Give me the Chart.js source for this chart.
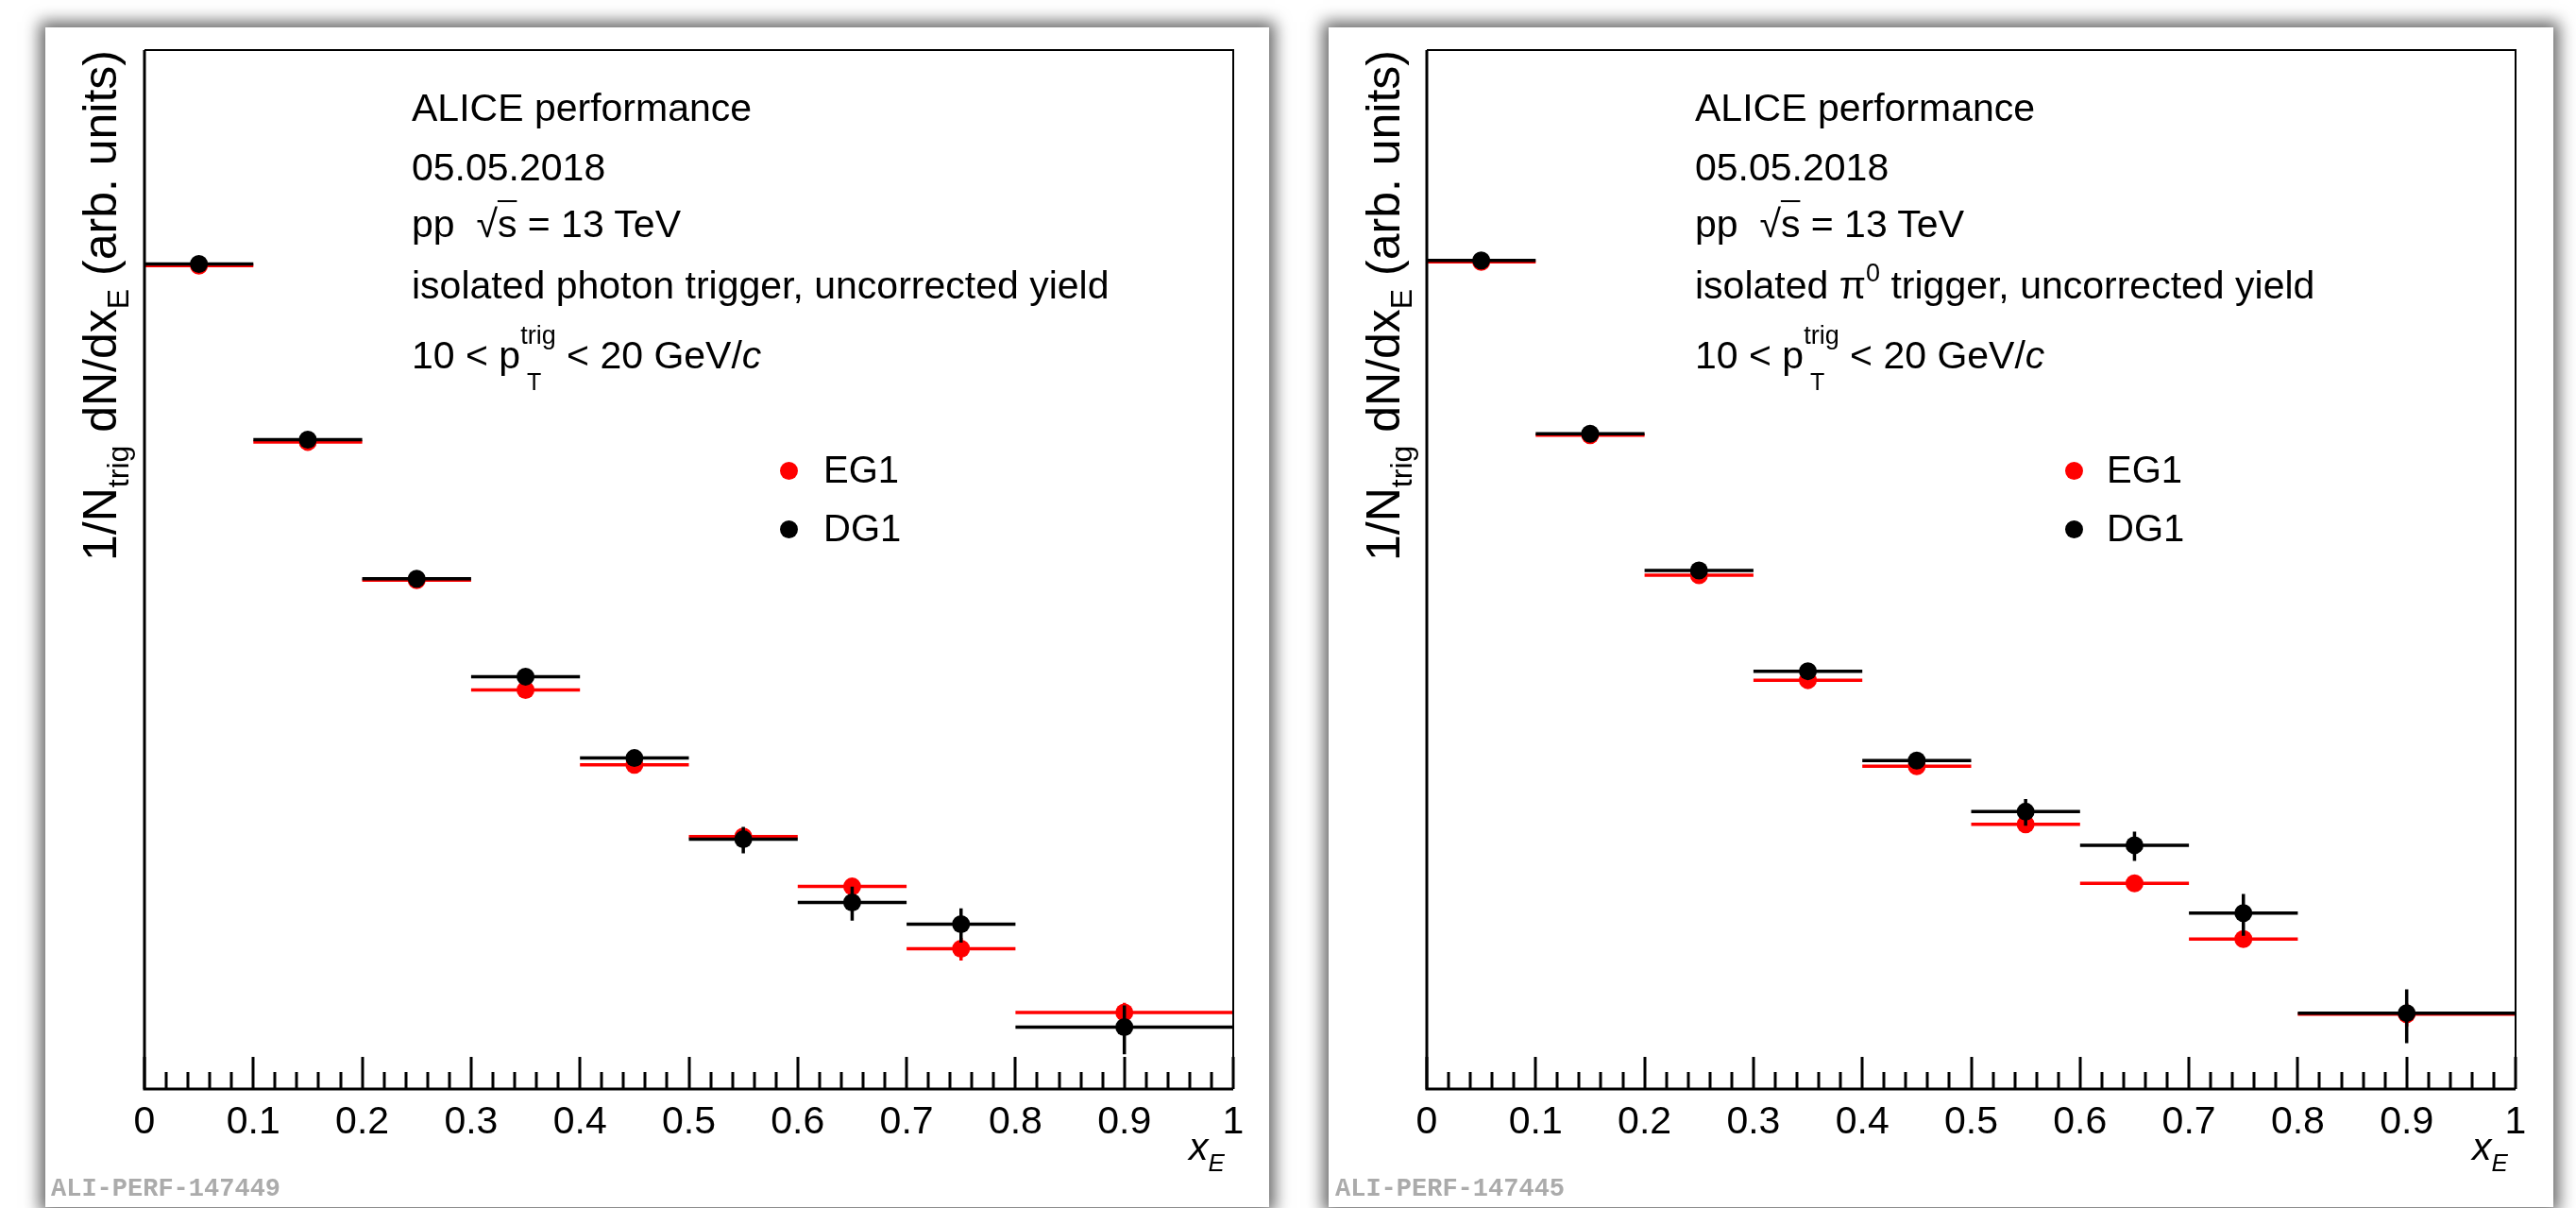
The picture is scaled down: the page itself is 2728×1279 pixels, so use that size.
<!DOCTYPE html>
<html>
<head>
<meta charset="utf-8">
<script src="https://cdn.jsdelivr.net/npm/chart.js@4.4.0/dist/chart.umd.min.js"></script>
<style>
  html, body { margin: 0; padding: 0; background: #fff; }
  body { width: 2728px; height: 1279px; position: relative; overflow: hidden;
         font-family: "Liberation Sans", Arial, Helvetica, sans-serif; color: #000; }
  .panel { position: absolute; top: 29px; height: 1249px; background: #fff;
           box-shadow: 0 0 16px 6px rgba(0, 0, 0, 0.6); }
  .panel canvas { position: absolute; left: 0; top: 0; }
  .txt { position: absolute; font-size: 41px; line-height: 48px; white-space: nowrap; }
  .ytitle { position: absolute; width: 640px; text-align: right; font-size: 50px; line-height: 56px;
            white-space: nowrap; transform: rotate(-90deg); transform-origin: 0 0; }
  .ysub { font-size: 32px; position: relative; top: 13px; }
  .legend { position: absolute; font-size: 40px; line-height: 48px; white-space: nowrap; }
  .dot { position: absolute; width: 19px; height: 19px; border-radius: 50%; }
  .mark { position: absolute; font-family: "Liberation Mono", "Courier New", monospace; font-weight: bold;
          font-size: 27px; line-height: 32px; color: #ababab; white-space: nowrap; }
  .ov { text-decoration: overline; text-decoration-thickness: 2px; }
  .up { font-size: 27px; position: relative; top: -18px; }
  .trig { font-size: 27px; position: relative; top: -26px; }
  .tsub { display: inline-block; width: 0; font-size: 25px; position: relative; top: 23px; }
  .esub { font-size: 26px; position: relative; top: 12px; }
</style>
</head>
<body>
<script>
// x_E bins
const xCenters = [0.05, 0.15, 0.25, 0.35, 0.45, 0.55, 0.65, 0.75, 0.9]
const xHalfWidths = [0.05, 0.05, 0.05, 0.05, 0.05, 0.05, 0.05, 0.05, 0.1]
const xTickLabels = ["0", "0.1", "0.2", "0.3", "0.4", "0.5", "0.6", "0.7", "0.8", "0.9", "1"]

// isolated photon trigger
const photonEG1 = [1.48, 0.310, 0.0910, 0.0344, 0.0177, 0.00938, 0.00602, 0.00347, 0.00197]
const photonEG1Err = [0.01, 0.003, 0.0015, 0.0008, 0.0006, 0.0005, 0.00036, 0.00035, 0.000175]
const photonDG1 = [1.50, 0.316, 0.0922, 0.0387, 0.0188, 0.00915, 0.00523, 0.00431, 0.00173]
const photonDG1Err = [0.0075, 0.003, 0.0018, 0.0015, 0.0009, 0.00107, 0.00078, 0.00065, 0.00037]

// isolated pi0 trigger
const pi0EG1 = [1.53, 0.329, 0.0951, 0.0375, 0.0175, 0.01045, 0.00619, 0.00378, 0.00194]
const pi0EG1Err = [0.008, 0.0033, 0.0019, 0.0011, 0.0007, 0.0006, 0.0003, 0.00025, 0.0002]
const pi0DG1 = [1.55, 0.333, 0.0992, 0.0406, 0.0184, 0.01169, 0.00868, 0.00476, 0.00196]
const pi0DG1Err = [0.008, 0.0033, 0.002, 0.0016, 0.0008, 0.00138, 0.00112, 0.00087, 0.00046]

const seriesNames = ["EG1", "DG1"]
const seriesColors = ["#ff0000", "#000000"]

// error bars, drawn under each dataset's markers
const errorBars = {
  id: "errorBars",
  beforeDatasetDraw(chart, args) {
    const ds = chart.data.datasets[args.index]
    const xs = chart.scales.x
    const ys = chart.scales.y
    const ctx = chart.ctx
    const a = chart.chartArea
    ctx.save()
    ctx.beginPath()
    ctx.rect(a.left, a.top, a.right - a.left, a.bottom - a.top)
    ctx.clip()
    ctx.strokeStyle = ds.backgroundColor
    ctx.lineWidth = 3.5
    ds.data.forEach((p, i) => {
      const y = ys.getPixelForValue(p.y)
      const xc = xs.getPixelForValue(p.x)
      ctx.beginPath()
      ctx.moveTo(xs.getPixelForValue(p.x - ds.xErr[i]), y)
      ctx.lineTo(xs.getPixelForValue(p.x + ds.xErr[i]), y)
      ctx.moveTo(xc, ys.getPixelForValue(p.y + ds.yErr[i]))
      ctx.lineTo(xc, ys.getPixelForValue(p.y - ds.yErr[i]))
      ctx.stroke()
    })
    ctx.restore()
  },
}

// ROOT style frame with inward ticks on the x axis
const frame = {
  id: "frame",
  afterDraw(chart) {
    const ctx = chart.ctx
    const a = chart.chartArea
    const xs = chart.scales.x
    ctx.save()
    ctx.strokeStyle = "#000"
    ctx.lineWidth = 2
    ctx.beginPath()
    ctx.moveTo(a.left, a.top)
    ctx.lineTo(a.right, a.top)
    ctx.lineTo(a.right, a.bottom)
    ctx.stroke()
    ctx.lineWidth = 3
    ctx.beginPath()
    ctx.moveTo(a.left, a.top)
    ctx.lineTo(a.left, a.bottom)
    ctx.lineTo(a.right, a.bottom)
    ctx.stroke()
    ctx.beginPath()
    for (let j = 0; j <= 50; j++) {
      const px = Math.round(xs.getPixelForValue(j / 50))
      const len = j % 5 === 0 ? 34 : 18
      ctx.moveTo(px, a.bottom)
      ctx.lineTo(px, a.bottom - len)
    }
    ctx.stroke()
    ctx.restore()
  },
}

function makePanel(left, width, padLeft, eg1, eg1Err, dg1, dg1Err, triggerHtml, tag) {
  const panel = document.createElement("div")
  panel.className = "panel"
  panel.style.left = left + "px"
  panel.style.width = width + "px"
  document.body.appendChild(panel)

  const canvas = document.createElement("canvas")
  canvas.width = width
  canvas.height = 1249
  panel.appendChild(canvas)

  const sets = [[eg1, eg1Err], [dg1, dg1Err]]
  new Chart(canvas, {
    type: "scatter",
    data: {
      datasets: sets.map((s, k) => ({
        label: seriesNames[k],
        data: xCenters.map((x, i) => ({ x: x, y: s[0][i] })),
        xErr: xHalfWidths,
        yErr: s[1],
        order: 2 - k, // DG1 drawn on top of EG1
        backgroundColor: seriesColors[k],
        borderWidth: 0,
        pointRadius: 9.5,
        pointHoverRadius: 9.5,
      })),
    },
    options: {
      responsive: false,
      animation: false,
      devicePixelRatio: 1,
      layout: { padding: { left: padLeft, top: 24, right: width - padLeft - 1153, bottom: 0 } },
      plugins: { legend: { display: false }, tooltip: { enabled: false } },
      scales: {
        x: {
          type: "linear",
          min: 0,
          max: 1,
          grid: { display: false },
          border: { display: false },
          ticks: {
            stepSize: 0.1,
            autoSkip: false,
            maxRotation: 0,
            padding: 3,
            color: "#000",
            font: { family: "Liberation Sans", size: 41 },
            callback: (v, i) => xTickLabels[i],
          },
          afterFit: (s) => { s.height = 125 },
        },
        y: {
          type: "logarithmic",
          min: 0.001,
          max: 10,
          display: false,
        },
      },
    },
    plugins: [errorBars, frame],
  })

  const add = (cls, html, x, y) => {
    const d = document.createElement("div")
    d.className = cls
    d.innerHTML = html
    d.style.left = x + "px"
    d.style.top = y + "px"
    panel.appendChild(d)
    return d
  }

  // annotation block (top = baseline - 38)
  add("txt", "ALICE performance", 388, 61)
  add("txt", "05.05.2018", 388, 124)
  add("txt", "pp &nbsp;√<span class=\"ov\">s</span> = 13 TeV", 388, 184)
  add("txt", triggerHtml, 388, 249)
  add("txt", "10 &lt; p<span class=\"tsub\">&nbsp;T</span><span class=\"trig\">trig</span> &lt; 20 GeV/<i>c</i>", 388, 323)

  // legend
  seriesNames.forEach((n, k) => {
    const dot = add("dot", "", 778 + (padLeft === 104 ? 2 : 0), 460 + k * 62)
    dot.style.background = seriesColors[k]
    add("legend", n, 824, 444 + k * 62)
  })

  // axis titles
  add("ytitle", "1/N<span class=\"ysub\">trig</span> dN/dx<span class=\"ysub\">E</span> (arb. units)", 30, 24 + 640)
  add("txt", "<i>x<span class=\"esub\">E</span></i>", 1211, 1161)

  // watermark
  add("mark", tag, padLeft === 104 ? 7 : 6, 1214)
}

makePanel(48, 1296, 105, photonEG1, photonEG1Err, photonDG1, photonDG1Err,
  "isolated photon trigger, uncorrected yield", "ALI-PERF-147449")
makePanel(1407, 1297, 104, pi0EG1, pi0EG1Err, pi0DG1, pi0DG1Err,
  "isolated π<span class=\"up\">0</span> trigger, uncorrected yield", "ALI-PERF-147445")
</script>
</body>
</html>
